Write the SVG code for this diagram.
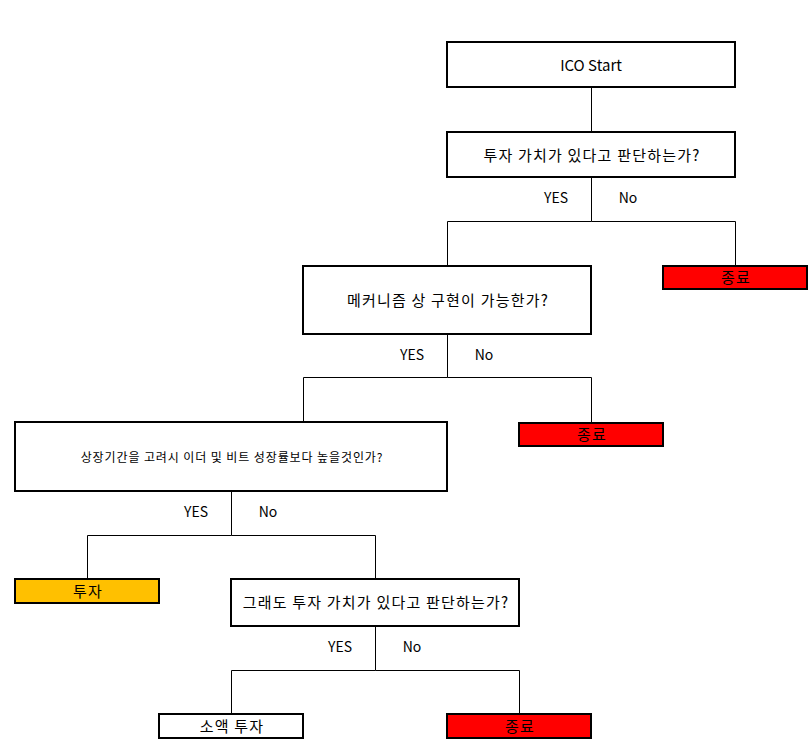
<svg xmlns="http://www.w3.org/2000/svg" width="812" height="746" viewBox="0 0 812 746">
<style>
.box{fill:#fff;stroke:#000;stroke-width:2}
.red{fill:#ff0000;stroke:#000;stroke-width:2}
.gold{fill:#ffc000;stroke:#000;stroke-width:2}
.ln{fill:none;stroke:#000;stroke-width:1}
text{font-family:"Noto Sans CJK KR","Noto Sans",sans-serif;font-size:15px;fill:#000;text-anchor:middle;dominant-baseline:central}
.ko{letter-spacing:1.2px}
.sm{font-size:12px;letter-spacing:0.9px}
.lab{font-size:14px}
</style>
<rect width="812" height="746" fill="#fff"/>
<g id="connectors">
<path class="ln" d="M591.5 87V132"/>
<path class="ln" d="M591.5 177V221.5H447.5V266M591.5 221.5H735.5V266"/>
<path class="ln" d="M447.5 334V377.5H303.5V422M447.5 377.5H591.5V423"/>
<path class="ln" d="M231.5 491V535.5H87.5V579M231.5 535.5H375.5V579"/>
<path class="ln" d="M375.5 626V670.5H231.5V714M375.5 670.5H519.5V714"/>
<text class="lab" x="556" y="197">YES</text><text class="lab" x="628" y="197">No</text>
<text class="lab" x="412" y="354">YES</text><text class="lab" x="484" y="354">No</text>
<text class="lab" x="196" y="511">YES</text><text class="lab" x="268" y="511">No</text>
<text class="lab" x="340" y="646">YES</text><text class="lab" x="412" y="646">No</text>
</g>
<g id="start"><rect class="box" x="447" y="42" width="288" height="45"/><text x="591" y="64">ICO Start</text></g>
<g id="q1"><rect class="box" x="447" y="132" width="288" height="45"/><text class="ko" x="592" y="154">투자 가치가 있다고 판단하는가?</text></g>
<g id="end1"><rect class="red" x="663" y="266" width="144" height="23"/><text class="ko" x="736" y="276.5">종료</text></g>
<g id="q2"><rect class="box" x="303" y="266" width="288" height="68"/><text class="ko" x="448" y="299">메커니즘 상 구현이 가능한가?</text></g>
<g id="end2"><rect class="red" x="519" y="423" width="144" height="23"/><text class="ko" x="592" y="433.5">종료</text></g>
<g id="q3"><rect class="box" x="15" y="422" width="432" height="69"/><text class="sm" x="232" y="456">상장기간을 고려시 이더 및 비트 성장률보다 높을것인가?</text></g>
<g id="invest"><rect class="gold" x="15" y="579" width="144" height="24"/><text class="ko" x="88" y="590">투자</text></g>
<g id="q4"><rect class="box" x="231" y="579" width="288" height="47"/><text class="ko" x="376" y="601">그래도 투자 가치가 있다고 판단하는가?</text></g>
<g id="small"><rect class="box" x="159" y="714" width="144" height="24"/><text class="ko" x="232" y="725">소액 투자</text></g>
<g id="end3"><rect class="red" x="447" y="714" width="144" height="24"/><text class="ko" x="520" y="725">종료</text></g>
</svg>
